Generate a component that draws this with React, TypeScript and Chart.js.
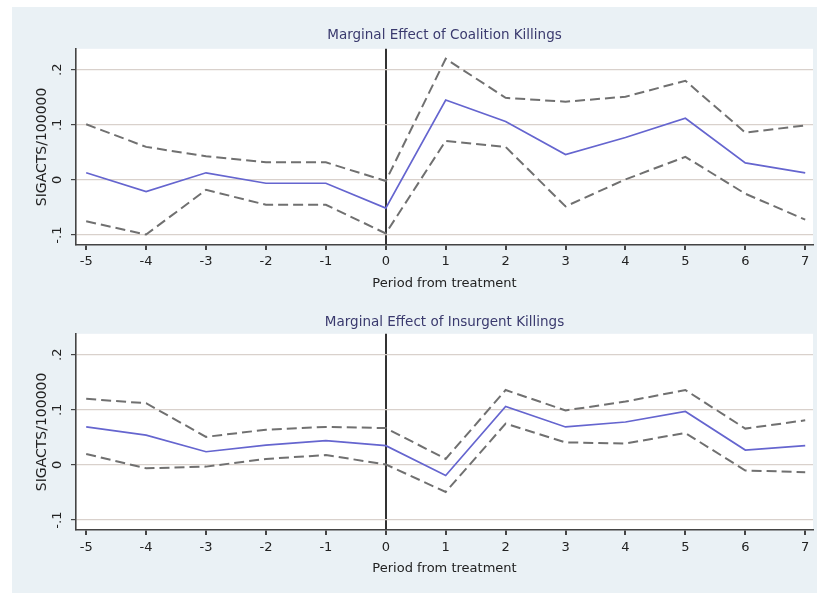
import React, { useEffect, useRef } from "react";
import { Chart, registerables } from "chart.js";
Chart.register(...registerables);

const periods = [-5, -4, -3, -2, -1, 0, 1, 2, 3, 4, 5, 6, 7];

const coalitionEffect = [0.013, -0.021, 0.013, -0.006, -0.006, -0.051, 0.145, 0.106, 0.046, 0.077, 0.112, 0.031, 0.013];
const coalitionUpper = [0.101, 0.06, 0.043, 0.032, 0.032, -0.002, 0.22, 0.149, 0.142, 0.151, 0.18, 0.086, 0.099];
const coalitionLower = [-0.075, -0.099, -0.018, -0.045, -0.045, -0.097, 0.071, 0.06, -0.048, 0.001, 0.042, -0.025, -0.072];

const insurgentEffect = [0.069, 0.054, 0.024, 0.036, 0.044, 0.035, -0.019, 0.106, 0.069, 0.078, 0.097, 0.027, 0.035];
const insurgentUpper = [0.12, 0.112, 0.051, 0.064, 0.069, 0.067, 0.011, 0.136, 0.099, 0.115, 0.136, 0.066, 0.081];
const insurgentLower = [0.02, -0.006, -0.003, 0.011, 0.018, 0.001, -0.049, 0.075, 0.041, 0.039, 0.058, -0.01, -0.013];

const xTickValues = [-5, -4, -3, -2, -1, 0, 1, 2, 3, 4, 5, 6, 7];
const yTickValues = [-0.1, 0, 0.1, 0.2];
const yTickLabels = ["-.1", "0", ".1", ".2"];
const treatmentPeriod = 0;

const panelTitles = ["Marginal Effect of Coalition Killings", "Marginal Effect of Insurgent Killings"];
const xAxisTitle = "Period from treatment";
const yAxisTitle = "SIGACTS/100000";

const FONT = "'DejaVu Sans', sans-serif";

const plotBg = {
  id: "plotBg",
  beforeDraw(chart: any) {
    const { ctx, chartArea: a } = chart;
    ctx.save();
    ctx.fillStyle = "#ffffff";
    ctx.fillRect(a.left, a.top, a.right - a.left, a.bottom - a.top);
    ctx.restore();
  },
};

type PanelProps = {
  title: string;
  effect: number[];
  upper: number[];
  lower: number[];
  height: number;
  titlePadTop: number;
  titlePadBottom: number;
  padBottom: number;
  xTickPad: number;
};

function Panel(p: PanelProps) {
  const ref = useRef<HTMLCanvasElement | null>(null);
  useEffect(() => {
    if (!ref.current) return;
    const toPts = (arr: number[]) => periods.map((x, i) => ({ x, y: arr[i] }));
    const dashed = {
      borderColor: "#707070",
      borderWidth: 2,
      borderDash: [10, 5],
      pointRadius: 0,
      tension: 0,
      fill: false,
    };
    const chart = new Chart(ref.current, {
      type: "line",
      data: {
        datasets: [
          { data: toPts(p.upper), ...dashed },
          { data: toPts(p.lower), ...dashed },
          {
            data: toPts(p.effect),
            borderColor: "#6565cf",
            borderWidth: 1.7,
            pointRadius: 0,
            tension: 0,
            fill: false,
          },
        ],
      },
      options: {
        animation: false,
        responsive: false,
        events: [],
        layout: { padding: { left: 0, right: 4, top: 0, bottom: p.padBottom } },
        plugins: {
          legend: { display: false },
          tooltip: { enabled: false },
          title: {
            display: true,
            text: p.title,
            fullSize: false,
            color: "#3a3a6e",
            font: { family: FONT, size: 13.5, weight: "normal" },
            padding: { top: p.titlePadTop, bottom: p.titlePadBottom },
          },
        },
        scales: {
          x: {
            type: "linear",
            min: -5.17,
            max: 7.13,
            afterBuildTicks: (s: any) => {
              s.ticks = xTickValues.map((v) => ({ value: v }));
            },
            afterFit: (s: any) => {
              s.height = 50;
            },
            ticks: {
              color: "#222",
              font: { family: FONT, size: 13 },
              padding: p.xTickPad,
              maxRotation: 0,
              autoSkip: false,
              callback: (v: any) => String(v),
            },
            grid: {
              drawOnChartArea: true,
              color: (c: any) => (c.tick && c.tick.value === treatmentPeriod ? "#333333" : "rgba(0,0,0,0)"),
              lineWidth: 2,
              tickColor: "#444",
              tickLength: 5,
            },
            border: { display: true, color: "#444", width: 1.6 },
            title: {
              display: true,
              text: xAxisTitle,
              color: "#222",
              font: { family: FONT, size: 13 },
              padding: { top: 0, bottom: 4 },
            },
          },
          y: {
            type: "linear",
            min: -0.118,
            max: 0.238,
            afterBuildTicks: (s: any) => {
              s.ticks = yTickValues.map((v) => ({ value: v }));
            },
            afterFit: (s: any) => {
              s.width = 64;
            },
            ticks: {
              color: "#222",
              font: { family: FONT, size: 13 },
              padding: 5,
              minRotation: 90,
              maxRotation: 90,
              crossAlign: "center",
              autoSkip: false,
              callback: (v: any) => {
                const i = yTickValues.findIndex((t) => Math.abs(t - v) < 1e-9);
                return i >= 0 ? yTickLabels[i] : "";
              },
            },
            grid: {
              color: "#d9d1cc",
              lineWidth: 1.2,
              tickColor: "#444",
              tickLength: 5,
            },
            border: { display: true, color: "#444", width: 1.6 },
            title: {
              display: true,
              text: yAxisTitle,
              color: "#222",
              font: { family: FONT, size: 14 },
              padding: { top: 22, bottom: 0 },
            },
          },
        },
      } as any,
      plugins: [plotBg],
    });
    return () => chart.destroy();
  }, []);
  return <canvas ref={ref} width={805} height={p.height} style={{ display: "block" }} />;
}

export default function App() {
  return (
    <div
      style={{
        position: "absolute",
        left: 12,
        top: 7,
        width: 805,
        height: 586,
        background: "#eaf1f5",
      }}
    >
      <Panel
        title={panelTitles[0]}
        effect={coalitionEffect}
        upper={coalitionUpper}
        lower={coalitionLower}
        height={290}
        titlePadTop={20}
        titlePadBottom={5.6}
        padBottom={2}
        xTickPad={4}
      />
      <Panel
        title={panelTitles[1]}
        effect={insurgentEffect}
        upper={insurgentUpper}
        lower={insurgentLower}
        height={296}
        titlePadTop={17}
        titlePadBottom={3.6}
        padBottom={13}
        xTickPad={5}
      />
    </div>
  );
}
